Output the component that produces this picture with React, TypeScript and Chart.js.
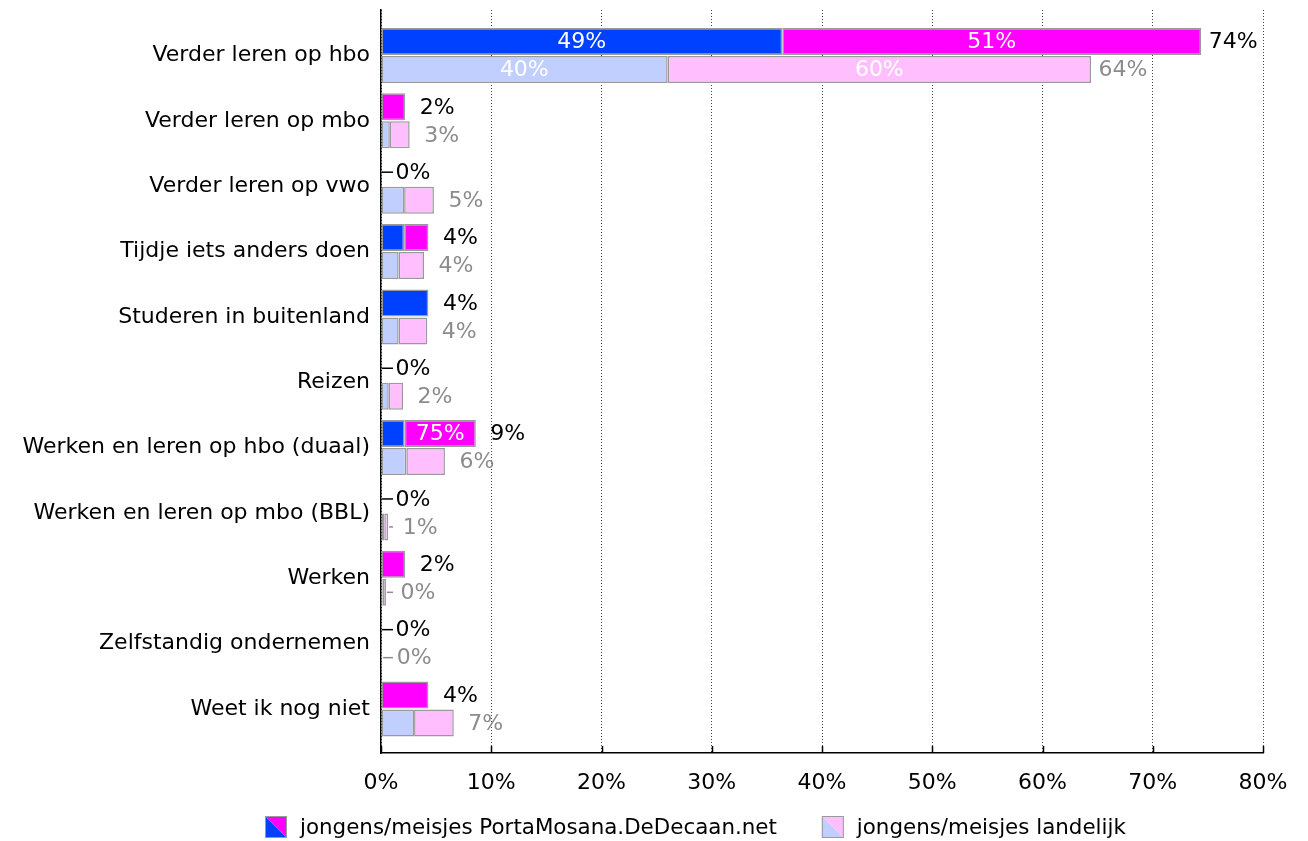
import React, { useEffect, useRef } from "react";
import { Chart, registerables } from "chart.js";

Chart.register(...registerables);

const categories = [
  "Verder leren op hbo",
  "Verder leren op mbo",
  "Verder leren op vwo",
  "Tijdje iets anders doen",
  "Studeren in buitenland",
  "Reizen",
  "Werken en leren op hbo (duaal)",
  "Werken en leren op mbo (BBL)",
  "Werken",
  "Zelfstandig ondernemen",
  "Weet ik nog niet",
];

// percentages of all respondents, split into boys / girls
const portaJongens = [36.4, 0, 0, 2.1, 4.3, 0, 2.15, 0, 0, 0, 0];
const portaMeisjes = [38.0, 2.2, 0, 2.2, 0, 0, 6.45, 0, 2.2, 0, 4.3];
const landJongens = [26.0, 0.8, 2.1, 1.6, 1.6, 0.7, 2.3, 0.3, 0.15, 0.1, 3.0];
const landMeisjes = [38.4, 1.8, 2.7, 2.3, 2.6, 1.3, 3.5, 0.35, 0.3, 0, 3.6];

const xTicks = [0, 10, 20, 30, 40, 50, 60, 70, 80];
const legendLabels = [
  "jongens/meisjes PortaMosana.DeDecaan.net",
  "jongens/meisjes landelijk",
];

const FONT = "'DejaVu Sans', Verdana, sans-serif";
const FS = 22;
const LEGEND_FS = 21.4;
const BLUE = "#0040ff";
const MAGENTA = "#ff00ff";
const LBLUE = "#c0cfff";
const LPINK = "#ffbfff";
const BORDER = "#9a9a9a";

const toPoints = (arr: number[]) => arr.map((v, i) => ({ x: v, y: i }));

const labelPlugin = {
  id: "barLabels",
  afterDatasetsDraw(chart: any) {
    const ctx = chart.ctx;
    const xs = chart.scales.x;
    ctx.save();
    ctx.font = `${FS}px ${FONT}`;
    ctx.textBaseline = "middle";
    ctx.textAlign = "center";
    const groups: [number, number, string][] = [
      [0, 1, "#000000"],
      [2, 3, "#8c8c8c"],
    ];
    groups.forEach(([a, b, color]) => {
      const metaA = chart.getDatasetMeta(a);
      categories.forEach((_, i) => {
        const va = chart.data.datasets[a].data[i].x;
        const vb = chart.data.datasets[b].data[i].x;
        const total = va + vb;
        const y = metaA.data[i].y;
        const x0 = xs.getPixelForValue(0);
        const xa = xs.getPixelForValue(va);
        const end = xs.getPixelForValue(total);
        if (total > 0) {
          ctx.fillStyle = "#ffffff";
          if (xa - x0 > 50) ctx.fillText(Math.round((va / total) * 100) + "%", (x0 + xa) / 2, y + 1);
          if (end - xa > 50) ctx.fillText(Math.round((vb / total) * 100) + "%", (xa + end) / 2, y + 1);
        }
        if (end < 391) {
          ctx.strokeStyle = color;
          ctx.lineWidth = 1.5;
          ctx.beginPath();
          ctx.moveTo(end + 1, y);
          ctx.lineTo(393, y);
          ctx.stroke();
        }
        ctx.fillStyle = color;
        ctx.fillText(Math.round(total) + "%", end + 32, y + 1);
      });
    });
    ctx.restore();
  },
  afterDraw(chart: any) {
    const ctx = chart.ctx;
    const xs = chart.scales.x;
    const area = chart.chartArea;
    ctx.save();
    ctx.strokeStyle = "#000";
    ctx.lineWidth = 1.5;
    xTicks.forEach((t) => {
      const px = Math.round(xs.getPixelForValue(t)) + 0.5;
      ctx.beginPath();
      ctx.moveTo(px, area.bottom);
      ctx.lineTo(px, area.bottom - 7);
      ctx.stroke();
    });
    ctx.font = `${LEGEND_FS}px ${FONT}`;
    ctx.textBaseline = "middle";
    ctx.textAlign = "left";
    const colors = [
      [BLUE, MAGENTA],
      [LBLUE, LPINK],
    ];
    let lx = 265;
    const ly = 816;
    const sq = 22;
    legendLabels.forEach((label, k) => {
      const [c1, c2] = colors[k];
      ctx.fillStyle = c1;
      ctx.beginPath();
      ctx.moveTo(lx, ly);
      ctx.lineTo(lx + sq, ly + sq);
      ctx.lineTo(lx, ly + sq);
      ctx.closePath();
      ctx.fill();
      ctx.fillStyle = c2;
      ctx.beginPath();
      ctx.moveTo(lx, ly);
      ctx.lineTo(lx + sq, ly);
      ctx.lineTo(lx + sq, ly + sq);
      ctx.closePath();
      ctx.fill();
      ctx.strokeStyle = BORDER;
      ctx.lineWidth = 1;
      ctx.strokeRect(lx + 0.5, ly + 0.5, sq - 1, sq - 1);
      ctx.fillStyle = "#000";
      const tx = lx + sq + 13;
      ctx.fillText(label, tx, ly + sq / 2 + 1);
      lx = tx + ctx.measureText(label).width + 45;
    });
    ctx.restore();
  },
};

export default function App() {
  const ref = useRef<HTMLCanvasElement | null>(null);
  useEffect(() => {
    if (!ref.current) return;
    const common = {
      borderColor: BORDER,
      borderWidth: 1.5,
      borderSkipped: false,
      categoryPercentage: 0.857,
      barPercentage: 0.964,
    };
    const chart = new Chart(ref.current, {
      type: "bar",
      data: {
        datasets: [
          { ...common, label: "jongens Porta", data: toPoints(portaJongens), backgroundColor: BLUE, stack: "p" },
          { ...common, label: "meisjes Porta", data: toPoints(portaMeisjes), backgroundColor: MAGENTA, stack: "p" },
          { ...common, label: "jongens landelijk", data: toPoints(landJongens), backgroundColor: LBLUE, stack: "l" },
          { ...common, label: "meisjes landelijk", data: toPoints(landMeisjes), backgroundColor: LPINK, stack: "l" },
        ] as any,
      },
      options: {
        indexAxis: "y",
        responsive: false,
        animation: false,
        events: [],
        layout: { padding: { top: 10, right: 45, bottom: 0, left: 0 } },
        plugins: { legend: { display: false }, tooltip: { enabled: false } },
        scales: {
          x: {
            type: "linear",
            stacked: true,
            min: 0,
            max: 80,
            afterBuildTicks: (scale: any) => {
              scale.ticks = xTicks.map((v) => ({ value: v }));
            },
            afterFit: (scale: any) => {
              scale.height = 88;
              scale.paddingLeft = 0;
              scale.paddingRight = 0;
            },
            ticks: {
              callback: (v: any) => v + "%",
              color: "#000",
              padding: 17,
              font: { family: FONT, size: FS },
            },
            grid: { color: "#444", lineWidth: 1, drawTicks: false },
            border: { color: "#000", width: 1.5, dash: [1, 2] },
          },
          y: {
            type: "linear",
            stacked: true,
            reverse: true,
            offset: false,
            bounds: "data",
            min: -0.696,
            max: 10.673,
            afterBuildTicks: (scale: any) => {
              scale.ticks = categories.map((_, i) => ({ value: i }));
            },
            afterFit: (scale: any) => {
              scale.width = 381;
              scale.paddingTop = 0;
              scale.paddingBottom = 0;
            },
            ticks: {
              callback: (v: any) => categories[v] ?? "",
              color: "#000",
              padding: 11,
              font: { family: FONT, size: FS },
            },
            grid: { display: false, drawTicks: false, offset: false },
            border: { color: "#000", width: 1.5 },
          },
        },
      } as any,
      plugins: [labelPlugin],
    });
    return () => chart.destroy();
  }, []);
  return (
    <div style={{ position: "fixed", left: 0, top: 0, width: 1308, height: 841, background: "#fff" }}>
      <canvas ref={ref} width={1308} height={841} />
    </div>
  );
}
